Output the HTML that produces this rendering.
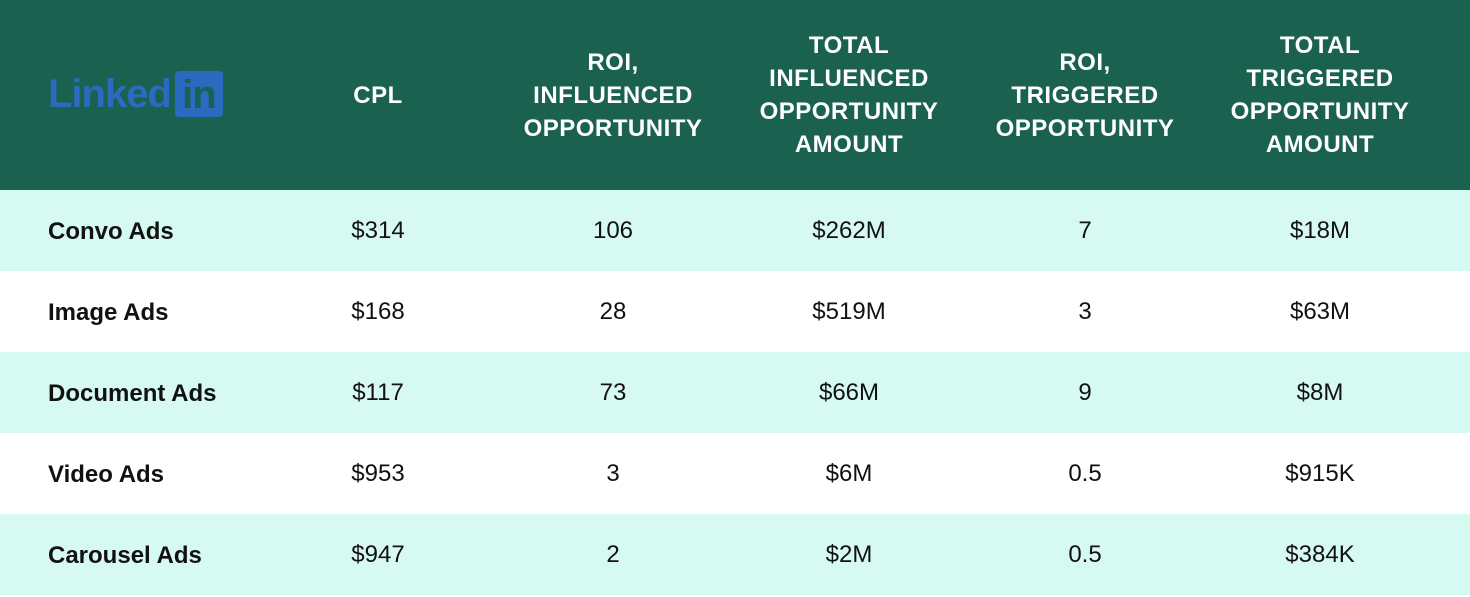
<!DOCTYPE html>
<html><head><meta charset="utf-8"><style>
body{margin:0;width:1470px;height:592px;overflow:hidden;font-family:"Liberation Sans",sans-serif;background:#fff}
.hdr{position:absolute;left:0;top:0;width:1470px;height:190px;background:#1a6150}
.h{position:absolute;top:0;height:190px;display:flex;align-items:center;justify-content:center;text-align:center;color:#fff;font-weight:bold;font-size:24px;line-height:33px;letter-spacing:0.5px;width:230px;transform:translateX(-50%)}
.row{position:absolute;left:0;width:1470px;height:81px}
.lbl{position:absolute;left:48px;top:0;height:81px;line-height:83px;font-weight:bold;font-size:24px;color:#111}
.c{position:absolute;top:0;height:81px;line-height:81px;font-size:24px;color:#111;width:200px;text-align:center;transform:translateX(-50%)}
.logo{position:absolute;left:48px;top:70px;height:48px;display:flex;align-items:center;color:#2a6bbf;font-weight:bold;font-size:40px;letter-spacing:-1px}
.in{margin-left:4px;background:#2a6bbf;color:#1a6150;width:48px;height:46px;border-radius:4px;display:flex;align-items:flex-end;justify-content:center;font-size:40px;line-height:44px}
</style></head><body>
<div class="hdr">
<div class="logo">Linked<span class="in">in</span></div>
<div class="h" style="left:378px">CPL</div>
<div class="h" style="left:613px">ROI,<br>INFLUENCED<br>OPPORTUNITY</div>
<div class="h" style="left:849px">TOTAL<br>INFLUENCED<br>OPPORTUNITY<br>AMOUNT</div>
<div class="h" style="left:1085px">ROI,<br>TRIGGERED<br>OPPORTUNITY</div>
<div class="h" style="left:1320px">TOTAL<br>TRIGGERED<br>OPPORTUNITY<br>AMOUNT</div>
</div>
<div id="body"></div>
<script>
const labels=["Convo Ads","Image Ads","Document Ads","Video Ads","Carousel Ads"];
const cpl=["$314","$168","$117","$953","$947"];
const roiInf=["106","28","73","3","2"];
const totInf=["$262M","$519M","$66M","$6M","$2M"];
const roiTrig=["7","3","9","0.5","0.5"];
const totTrig=["$18M","$63M","$8M","$915K","$384K"];
const cols=[378,613,849,1085,1320];
const tops=[190,271,352,433,514];
const b=document.getElementById('body');
labels.forEach((l,i)=>{
 const r=document.createElement('div');r.className='row';
 
 
 r.style.top=tops[i]+'px';r.style.background=i%2===0?'#d6faf1':'#fff';
 const lb=document.createElement('div');lb.className='lbl';lb.textContent=l;
 
 
 r.appendChild(lb);
 [cpl,roiInf,totInf,roiTrig,totTrig].forEach((arr,j)=>{
  const c=document.createElement('div');c.className='c';c.textContent=arr[i];c.style.left=cols[j]+'px';
  
  
  r.appendChild(c);
 });
 b.appendChild(r);
});
</script>
</body></html>
